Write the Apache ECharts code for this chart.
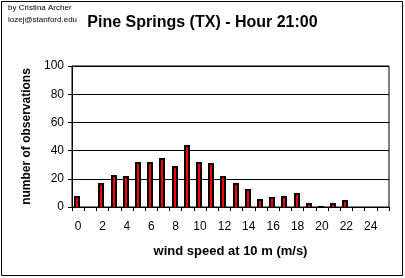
<!DOCTYPE html>
<html><head><meta charset="utf-8">
<script src="https://cdn.jsdelivr.net/npm/echarts@6/dist/echarts.min.js"></script>
<style>html,body{margin:0;padding:0;background:#fff}#c{width:405px;height:278px}</style>
</head><body><div id="c"></div>
<script>
const categories = ['0','1','2','3','4','5','6','7','8','9','10','11','12','13','14','15','16','17','18','19','20','21','22','23','24','25'];
const observations = [8,0,17,23,22,32,32,35,29,44,32,31,22,17,13,6,7,8,10,3,1,3,5,0,0,0];
const yTicks = {min:0, max:100, interval:20};
const titleText = 'Pine Springs (TX) - Hour 21:00';
const credit1 = 'by Cristina Archer';
const credit2 = 'lozej@stanford.edu';
const xName = 'wind speed at 10 m (m/s)';
const yName = 'number of observations';

const chart = echarts.init(document.getElementById('c'), null, {renderer:'canvas'});
const F = 'Liberation Sans, Arial, sans-serif';

function renderBar(params, api) {
  const v = api.value(1);
  if (!v) return null;
  const top = api.coord([api.value(0), v]);
  const base = api.coord([api.value(0), 0]);
  const cx = Math.round(top[0]) - 1;
  const x0 = cx - 3, yT = Math.round(top[1]), yB = Math.round(base[1]);
  const children = [{type:'rect', shape:{x:x0, y:yT, width:6, height:yB - yT}, style:{fill:'#000'}}];
  if (yB - yT > 2) children.push({type:'rect', shape:{x:x0 + 2, y:yT + 2, width:2, height:yB - yT - 2}, style:{fill:'#ff0000'}});
  return {type:'group', children};
}

chart.setOption({
  animation:false,
  backgroundColor:'#fff',
  title:{text:titleText, left:'center', top:10,
    textStyle:{fontFamily:F, fontSize:16, fontWeight:'bold', color:'#000'}},
  grid:{left:72, top:66, width:317, height:141, show:true, borderColor:'#000', borderWidth:1, backgroundColor:'transparent'},
  xAxis:{type:'category', data:categories, boundaryGap:true,
    name:xName, nameLocation:'middle', nameGap:38,
    nameTextStyle:{fontFamily:F, fontSize:13, fontWeight:'bold', color:'#000'},
    axisLine:{lineStyle:{color:'#000', width:1}},
    axisTick:{show:true, interval:0, length:4, lineStyle:{color:'#000'}},
    axisLabel:{interval:1, fontFamily:F, fontSize:12, color:'#000', margin:14},
    splitLine:{show:false}},
  yAxis:{type:'value', min:yTicks.min, max:yTicks.max, interval:yTicks.interval,
    name:yName, nameLocation:'middle', nameGap:38, nameRotate:90,
    nameTextStyle:{fontFamily:F, fontSize:12, fontWeight:'bold', color:'#000'},
    axisLine:{show:true, lineStyle:{color:'#000', width:1}},
    axisTick:{show:true, length:4, lineStyle:{color:'#000'}},
    axisLabel:{fontFamily:F, fontSize:12, color:'#000', margin:8},
    splitLine:{show:true, lineStyle:{color:'#000', width:1}}},
  series:[{type:'custom', renderItem:renderBar, encode:{x:0, y:1}, z:3,
    data:observations.map((v, i) => [i, v])}],
  graphic:[
    {type:'rect', shape:{x:1.5, y:1.5, width:401, height:274}, style:{fill:'none', stroke:'#000', lineWidth:1}},
    {type:'text', left:8, top:4, style:{text:credit1, font:'8px '+F, fill:'#000'}},
    {type:'text', left:8, top:16, style:{text:credit2, font:'8px '+F, fill:'#000'}}
  ]
});
</script></body></html>
